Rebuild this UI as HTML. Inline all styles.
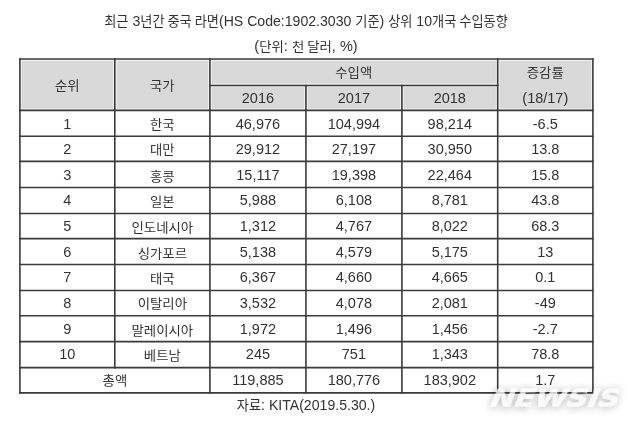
<!DOCTYPE html>
<html><head><meta charset="utf-8">
<style>
html,body{margin:0;padding:0;background:#fff;}
body{width:640px;height:426px;position:relative;overflow:hidden;font-family:"Liberation Sans", "Noto Sans CJK KR", sans-serif;color:#333;}
.hb{position:absolute;background:#d9d9d9;}
.c{position:absolute;display:flex;align-items:center;justify-content:center;font-size:14.5px;line-height:1;white-space:nowrap;}
.k{font-family:"Noto Sans CJK KR", "Liberation Sans", sans-serif;font-size:13.4px;font-weight:400;display:inline-block;transform:scaleY(0.95);}
.t{position:absolute;left:0;width:612px;text-align:center;font-size:14.5px;line-height:1;white-space:nowrap;}
.g{position:absolute;left:0;top:0;}
.t1{font-size:14.1px;} .t1 .k{font-size:13.2px;transform:none;}
</style></head><body>
<div class="t t1" style="top:13.5px"><span class="k">최근</span> 3<span class="k">년간 중국 라면</span>(HS Code:1902.3030 <span class="k">기준</span>) <span class="k">상위</span> 10<span class="k">개국 수입동향</span></div>
<div class="t" style="top:39px">(<span class="k">단위</span>: <span class="k">천 달러</span>, %)</div>
<div class="hb" style="left:19.9px;top:59.0px;width:573.00px;height:51.40px"></div>
<div class="c" style="left:19.90px;top:59.00px;width:94.90px;height:51.40px"><span class="k">순위</span></div>
<div class="c" style="left:114.80px;top:59.00px;width:95.10px;height:51.40px"><span class="k">국가</span></div>
<div class="c" style="left:209.90px;top:58.00px;width:287.80px;height:26.45px"><span class="k">수입액</span></div>
<div class="c" style="left:209.90px;top:85.45px;width:96.05px;height:24.95px">2016</div>
<div class="c" style="left:305.95px;top:85.45px;width:95.95px;height:24.95px">2017</div>
<div class="c" style="left:401.90px;top:85.45px;width:95.80px;height:24.95px">2018</div>
<div class="c" style="left:497.70px;top:58.00px;width:95.20px;height:26.45px"><span class="k">증감률</span></div>
<div class="c" style="left:497.70px;top:85.45px;width:95.20px;height:24.95px">(18/17)</div>
<div class="c" style="left:19.90px;top:111.20px;width:94.90px;height:25.90px">1</div>
<div class="c" style="left:114.80px;top:111.20px;width:95.10px;height:25.90px"><span class="k">한국</span></div>
<div class="c" style="left:209.90px;top:111.20px;width:96.05px;height:25.90px">46,976</div>
<div class="c" style="left:305.95px;top:111.20px;width:95.95px;height:25.90px">104,994</div>
<div class="c" style="left:401.90px;top:111.20px;width:95.80px;height:25.90px">98,214</div>
<div class="c" style="left:497.70px;top:111.20px;width:95.20px;height:25.90px">-6.5</div>
<div class="c" style="left:19.90px;top:136.30px;width:94.90px;height:25.10px">2</div>
<div class="c" style="left:114.80px;top:136.30px;width:95.10px;height:25.10px"><span class="k">대만</span></div>
<div class="c" style="left:209.90px;top:136.30px;width:96.05px;height:25.10px">29,912</div>
<div class="c" style="left:305.95px;top:136.30px;width:95.95px;height:25.10px">27,197</div>
<div class="c" style="left:401.90px;top:136.30px;width:95.80px;height:25.10px">30,950</div>
<div class="c" style="left:497.70px;top:136.30px;width:95.20px;height:25.10px">13.8</div>
<div class="c" style="left:19.90px;top:162.50px;width:94.90px;height:26.10px">3</div>
<div class="c" style="left:114.80px;top:162.50px;width:95.10px;height:26.10px"><span class="k">홍콩</span></div>
<div class="c" style="left:209.90px;top:162.50px;width:96.05px;height:26.10px">15,117</div>
<div class="c" style="left:305.95px;top:162.50px;width:95.95px;height:26.10px">19,398</div>
<div class="c" style="left:401.90px;top:162.50px;width:95.80px;height:26.10px">22,464</div>
<div class="c" style="left:497.70px;top:162.50px;width:95.20px;height:26.10px">15.8</div>
<div class="c" style="left:19.90px;top:187.30px;width:94.90px;height:26.00px">4</div>
<div class="c" style="left:114.80px;top:187.30px;width:95.10px;height:26.00px"><span class="k">일본</span></div>
<div class="c" style="left:209.90px;top:187.30px;width:96.05px;height:26.00px">5,988</div>
<div class="c" style="left:305.95px;top:187.30px;width:95.95px;height:26.00px">6,108</div>
<div class="c" style="left:401.90px;top:187.30px;width:95.80px;height:26.00px">8,781</div>
<div class="c" style="left:497.70px;top:187.30px;width:95.20px;height:26.00px">43.8</div>
<div class="c" style="left:19.90px;top:213.90px;width:94.90px;height:25.10px">5</div>
<div class="c" style="left:114.80px;top:213.90px;width:95.10px;height:25.10px"><span class="k">인도네시아</span></div>
<div class="c" style="left:209.90px;top:213.90px;width:96.05px;height:25.10px">1,312</div>
<div class="c" style="left:305.95px;top:213.90px;width:95.95px;height:25.10px">4,767</div>
<div class="c" style="left:401.90px;top:213.90px;width:95.80px;height:25.10px">8,022</div>
<div class="c" style="left:497.70px;top:213.90px;width:95.20px;height:25.10px">68.3</div>
<div class="c" style="left:19.90px;top:239.70px;width:94.90px;height:25.90px">6</div>
<div class="c" style="left:114.80px;top:239.70px;width:95.10px;height:25.90px"><span class="k">싱가포르</span></div>
<div class="c" style="left:209.90px;top:239.70px;width:96.05px;height:25.90px">5,138</div>
<div class="c" style="left:305.95px;top:239.70px;width:95.95px;height:25.90px">4,579</div>
<div class="c" style="left:401.90px;top:239.70px;width:95.80px;height:25.90px">5,175</div>
<div class="c" style="left:497.70px;top:239.70px;width:95.20px;height:25.90px">13</div>
<div class="c" style="left:19.90px;top:264.50px;width:94.90px;height:26.00px">7</div>
<div class="c" style="left:114.80px;top:264.50px;width:95.10px;height:26.00px"><span class="k">태국</span></div>
<div class="c" style="left:209.90px;top:264.50px;width:96.05px;height:26.00px">6,367</div>
<div class="c" style="left:305.95px;top:264.50px;width:95.95px;height:26.00px">4,660</div>
<div class="c" style="left:401.90px;top:264.50px;width:95.80px;height:26.00px">4,665</div>
<div class="c" style="left:497.70px;top:264.50px;width:95.20px;height:26.00px">0.1</div>
<div class="c" style="left:19.90px;top:290.40px;width:94.90px;height:25.20px">8</div>
<div class="c" style="left:114.80px;top:290.40px;width:95.10px;height:25.20px"><span class="k">이탈리아</span></div>
<div class="c" style="left:209.90px;top:290.40px;width:96.05px;height:25.20px">3,532</div>
<div class="c" style="left:305.95px;top:290.40px;width:95.95px;height:25.20px">4,078</div>
<div class="c" style="left:401.90px;top:290.40px;width:95.80px;height:25.20px">2,081</div>
<div class="c" style="left:497.70px;top:290.40px;width:95.20px;height:25.20px">-49</div>
<div class="c" style="left:19.90px;top:316.70px;width:94.90px;height:25.90px">9</div>
<div class="c" style="left:114.80px;top:316.70px;width:95.10px;height:25.90px"><span class="k">말레이시아</span></div>
<div class="c" style="left:209.90px;top:316.70px;width:96.05px;height:25.90px">1,972</div>
<div class="c" style="left:305.95px;top:316.70px;width:95.95px;height:25.90px">1,496</div>
<div class="c" style="left:401.90px;top:316.70px;width:95.80px;height:25.90px">1,456</div>
<div class="c" style="left:497.70px;top:316.70px;width:95.20px;height:25.90px">-2.7</div>
<div class="c" style="left:19.90px;top:341.60px;width:94.90px;height:26.00px">10</div>
<div class="c" style="left:114.80px;top:341.60px;width:95.10px;height:26.00px"><span class="k">베트남</span></div>
<div class="c" style="left:209.90px;top:341.60px;width:96.05px;height:26.00px">245</div>
<div class="c" style="left:305.95px;top:341.60px;width:95.95px;height:26.00px">751</div>
<div class="c" style="left:401.90px;top:341.60px;width:95.80px;height:26.00px">1,343</div>
<div class="c" style="left:497.70px;top:341.60px;width:95.20px;height:26.00px">78.8</div>
<div class="c" style="left:19.90px;top:367.00px;width:190.00px;height:25.30px"><span class="k">총액</span></div>
<div class="c" style="left:209.90px;top:368.00px;width:96.05px;height:25.30px">119,885</div>
<div class="c" style="left:305.95px;top:368.00px;width:95.95px;height:25.30px">180,776</div>
<div class="c" style="left:401.90px;top:368.00px;width:95.80px;height:25.30px">183,902</div>
<div class="c" style="left:497.70px;top:368.00px;width:95.20px;height:25.30px">1.7</div>
<svg class="g" width="640" height="426" fill="none"><defs><clipPath id="hc"><rect x="19.9" y="59.0" width="573.00" height="51.40"/></clipPath></defs><g clip-path="url(#hc)" stroke="#efefef" stroke-width="3.8"><path d="M19.90 59.00H592.90"/><path d="M209.90 85.45H497.70"/><path d="M19.90 110.40H592.90"/><path d="M19.90 59.00V110.40"/><path d="M114.80 59.00V110.40"/><path d="M209.90 59.00V110.40"/><path d="M497.70 59.00V110.40"/><path d="M592.90 59.00V110.40"/><path d="M305.95 85.45V110.40"/><path d="M401.90 85.45V110.40"/></g><g stroke="#3a3a3a" stroke-width="1.6"><path d="M19.10 59.00H593.70"/><path d="M209.10 85.45H498.50"/><path d="M19.10 110.40H593.70"/><path d="M19.10 136.30H593.70"/><path d="M19.10 161.40H593.70"/><path d="M19.10 187.50H593.70"/><path d="M19.10 213.50H593.70"/><path d="M19.10 238.60H593.70"/><path d="M19.10 264.50H593.70"/><path d="M19.10 290.50H593.70"/><path d="M19.10 315.70H593.70"/><path d="M19.10 341.60H593.70"/><path d="M19.10 367.60H593.70"/><path d="M19.10 392.90H593.70"/><path d="M19.90 58.20V393.70"/><path d="M592.90 58.20V393.70"/><path d="M114.80 58.20V368.40"/><path d="M209.90 58.20V393.70"/><path d="M497.70 58.20V393.70"/><path d="M305.95 84.65V393.70"/><path d="M401.90 84.65V393.70"/></g></svg>
<div class="t t1" style="top:398px"><span class="k">자료</span>: KITA(2019.5.30.)</div>
<svg class="g" width="640" height="426">
<defs><filter id="sh" x="-20%" y="-50%" width="140%" height="200%">
<feGaussianBlur in="SourceAlpha" stdDeviation="4"/>
<feOffset dx="0" dy="1" result="b"/>
<feFlood flood-color="#000" flood-opacity="0.45"/>
<feComposite in2="b" operator="in" result="s"/>
<feMerge><feMergeNode in="s"/><feMergeNode in="SourceGraphic"/></feMerge>
</filter></defs>
<text x="0" y="0" transform="translate(490 406.5) skewX(-9)" font-family="DejaVu Sans" font-weight="bold" font-style="italic" font-size="24.5" textLength="129" lengthAdjust="spacingAndGlyphs" fill="#fff" fill-opacity="0.75" filter="url(#sh)">NEWSIS</text>
</svg>
</body></html>
